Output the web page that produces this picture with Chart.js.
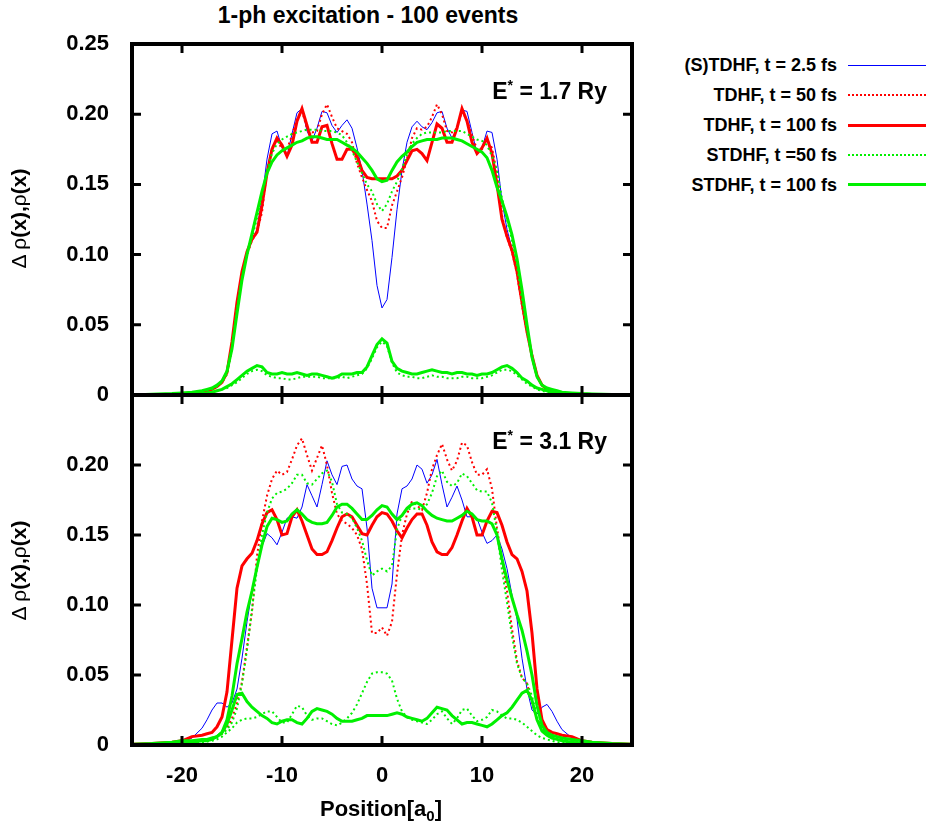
<!DOCTYPE html>
<html>
<head>
<meta charset="utf-8">
<script src="https://cdn.jsdelivr.net/npm/chart.js@4.4.0/dist/chart.umd.min.js"></script>
<style>
  body { margin: 0; background: #fff; }
  #page { position: relative; width: 926px; height: 830px; overflow: hidden; font-family: "Liberation Sans", Arial, sans-serif; font-weight: bold; color: #000; }
  canvas { position: absolute; left: 0; }
  .txt { position: absolute; white-space: nowrap; line-height: 1; }
  .leg { position: absolute; right: 89px; font-size: 18px; line-height: 1; white-space: nowrap; }
  .sample { position: absolute; left: 848px; width: 78px; height: 0; }
  .ytitle { position: absolute; width: 240px; text-align: center; font-size: 21px; line-height: 1; transform: rotate(-90deg); white-space: nowrap; }
  .ytitle .g { font-weight: normal; }
</style>
</head>
<body>
<div id="page">
  <div class="txt" style="left:168px; width:400px; text-align:center; top:4px; font-size:23px;">1-ph excitation - 100 events</div>

  <canvas id="topChart" width="640" height="425" style="top:0"></canvas>
  <canvas id="botChart" width="640" height="465" style="top:365px"></canvas>

  <div class="txt" style="right:319px; top:78px; font-size:23px;">E<sup style="font-size:14px; vertical-align:9px;">*</sup> = 1.7 Ry</div>
  <div class="txt" style="right:319px; top:428px; font-size:23px;">E<sup style="font-size:14px; vertical-align:9px;">*</sup> = 3.1 Ry</div>

  <div class="ytitle" style="left:-102px; top:208px;"><span class="g">Δ ρ</span>(x),<span class="g">ρ</span>(x)</div>
  <div class="ytitle" style="left:-102px; top:560px;"><span class="g">Δ ρ</span>(x),<span class="g">ρ</span>(x)</div>

  <div class="txt" style="left:231px; width:300px; text-align:center; top:798px; font-size:22px;">Position[a<sub style="font-size:15px; vertical-align:-5px;">0</sub>]</div>

  <div class="leg" style="top:56px;">(S)TDHF, t = 2.5 fs</div>
  <div class="sample" style="top:65px; border-top:1px solid #0000ff;"></div>
  <div class="leg" style="top:86px;">TDHF, t = 50 fs</div>
  <div class="sample" style="top:94px; border-top:2px dotted #ff0000;"></div>
  <div class="leg" style="top:116px;">TDHF, t = 100 fs</div>
  <div class="sample" style="top:124px; border-top:3px solid #ff0000;"></div>
  <div class="leg" style="top:146px;">STDHF, t =50 fs</div>
  <div class="sample" style="top:154px; border-top:2px dotted #00f000;"></div>
  <div class="leg" style="top:176px;">STDHF, t = 100 fs</div>
  <div class="sample" style="top:183px; border-top:3px solid #00f000;"></div>
</div>

<script>
// positions in a0
const positions = [-25, -23, -21, -20, -19,
    -18, -17.5, -17, -16.5, -16, -15.5, -15, -14.5, -14, -13.5, -13, -12.5,
    -12, -11.5, -11, -10.5, -10, -9.5, -9, -8.5, -8, -7.5, -7, -6.5,
    -6, -5.5, -5, -4.5, -4, -3.5, -3, -2.5, -2, -1.5, -1, -0.5,
    0, 0.5, 1, 1.5, 2, 2.5, 3, 3.5, 4, 4.5, 5, 5.5,
    6, 6.5, 7, 7.5, 8, 8.5, 9, 9.5, 10, 10.5, 11, 11.5,
    12, 12.5, 13, 13.5, 14, 14.5, 15, 15.5, 16, 16.5, 17, 17.5,
    18, 19, 20, 21, 23, 25];

const xTicks = [-20, -10, 0, 10, 20];
const yTicksTop = [0, 0.05, 0.10, 0.15, 0.20, 0.25];
const yTicksBot = [0, 0.05, 0.10, 0.15, 0.20];
const yMarks = [0, 0.05, 0.10, 0.15, 0.20, 0.25];

// upper panel, E* = 1.7 Ry
const topBlue = [0, 0, 0.0005, 0.001, 0.0015,
    0.002, 0.003, 0.004, 0.006, 0.009, 0.016, 0.037, 0.064, 0.086, 0.101, 0.110, 0.118,
    0.140, 0.168, 0.186, 0.188, 0.176, 0.170, 0.186, 0.201, 0.204, 0.188, 0.181, 0.190,
    0.202, 0.201, 0.192, 0.187, 0.192, 0.196, 0.190, 0.176, 0.160, 0.136, 0.110, 0.078,
    0.062, 0.068, 0.098, 0.132, 0.160, 0.180, 0.191, 0.195, 0.191, 0.189, 0.194, 0.201,
    0.202, 0.190, 0.183, 0.190, 0.203, 0.202, 0.187, 0.172, 0.176, 0.188, 0.187, 0.168,
    0.138, 0.118, 0.104, 0.088, 0.066, 0.045, 0.028, 0.014, 0.007, 0.004, 0.003, 0.002,
    0.001, 0.0008, 0.0005, 0.0003, 0, 0];
const topRedDot = [0, 0, 0.0005, 0.001, 0.0015,
    0.002, 0.003, 0.004, 0.006, 0.009, 0.015, 0.034, 0.062, 0.085, 0.100, 0.110, 0.116,
    0.130, 0.160, 0.176, 0.182, 0.175, 0.175, 0.185, 0.197, 0.202, 0.190, 0.187, 0.188,
    0.200, 0.207, 0.198, 0.190, 0.188, 0.186, 0.180, 0.165, 0.155, 0.146, 0.138, 0.124,
    0.119, 0.119, 0.135, 0.145, 0.155, 0.168, 0.183, 0.190, 0.189, 0.191, 0.198, 0.207,
    0.200, 0.188, 0.187, 0.190, 0.202, 0.196, 0.185, 0.175, 0.175, 0.182, 0.176, 0.158,
    0.128, 0.112, 0.102, 0.086, 0.064, 0.044, 0.027, 0.013, 0.007, 0.004, 0.003, 0.002,
    0.001, 0.0008, 0.0005, 0.0003, 0, 0];
const topRed = [0, 0, 0.0005, 0.001, 0.0015,
    0.002, 0.003, 0.004, 0.006, 0.009, 0.016, 0.038, 0.066, 0.088, 0.102, 0.111, 0.116,
    0.135, 0.158, 0.175, 0.183, 0.178, 0.170, 0.178, 0.195, 0.204, 0.192, 0.180, 0.180,
    0.191, 0.192, 0.179, 0.168, 0.168, 0.175, 0.175, 0.170, 0.160, 0.155, 0.154, 0.154,
    0.154, 0.154, 0.154, 0.156, 0.160, 0.167, 0.174, 0.175, 0.172, 0.167, 0.180, 0.193,
    0.190, 0.180, 0.180, 0.190, 0.204, 0.195, 0.180, 0.172, 0.176, 0.183, 0.172, 0.150,
    0.125, 0.113, 0.103, 0.088, 0.066, 0.045, 0.028, 0.014, 0.007, 0.004, 0.003, 0.002,
    0.001, 0.0008, 0.0005, 0.0003, 0, 0];
const topGreenDot = [0, 0, 0.0005, 0.001, 0.0015,
    0.002, 0.003, 0.004, 0.006, 0.009, 0.015, 0.034, 0.062, 0.085, 0.100, 0.112, 0.126,
    0.142, 0.160, 0.172, 0.179, 0.182, 0.184, 0.186, 0.187, 0.188, 0.189, 0.189, 0.189,
    0.188, 0.188, 0.188, 0.187, 0.185, 0.180, 0.174, 0.166, 0.158, 0.150, 0.145, 0.136,
    0.131, 0.136, 0.145, 0.152, 0.161, 0.171, 0.179, 0.183, 0.186, 0.187, 0.187, 0.187,
    0.187, 0.188, 0.188, 0.188, 0.188, 0.186, 0.184, 0.182, 0.181, 0.178, 0.170, 0.160,
    0.140, 0.125, 0.110, 0.092, 0.068, 0.045, 0.027, 0.013, 0.007, 0.004, 0.003, 0.002,
    0.001, 0.0008, 0.0005, 0.0003, 0, 0];
const topGreen = [0, 0.0005, 0.001, 0.0015, 0.002,
    0.003, 0.004, 0.005, 0.007, 0.010, 0.017, 0.033, 0.058, 0.082, 0.100, 0.115, 0.130,
    0.145, 0.158, 0.166, 0.171, 0.174, 0.176, 0.178, 0.180, 0.181, 0.183, 0.184, 0.184,
    0.183, 0.182, 0.182, 0.182, 0.180, 0.178, 0.176, 0.173, 0.169, 0.165, 0.160, 0.154,
    0.152, 0.153, 0.160, 0.166, 0.170, 0.173, 0.177, 0.180, 0.181, 0.182, 0.182, 0.182,
    0.183, 0.183, 0.183, 0.182, 0.181, 0.179, 0.177, 0.175, 0.173, 0.169, 0.160, 0.148,
    0.138, 0.127, 0.114, 0.097, 0.075, 0.050, 0.027, 0.013, 0.007, 0.005, 0.004, 0.003,
    0.002, 0.0015, 0.001, 0.0008, 0.0003, 0];
const topGreenLow = [0, 0, 0.0003, 0.0005, 0.0008,
    0.001, 0.0015, 0.002, 0.003, 0.004, 0.006, 0.008, 0.011, 0.014, 0.017, 0.019, 0.021,
    0.020, 0.016, 0.015, 0.015, 0.016, 0.015, 0.015, 0.016, 0.015, 0.014, 0.015, 0.015,
    0.014, 0.013, 0.012, 0.013, 0.015, 0.015, 0.015, 0.016, 0.016, 0.020, 0.028, 0.036,
    0.040, 0.037, 0.024, 0.019, 0.017, 0.016, 0.015, 0.015, 0.016, 0.017, 0.018, 0.017,
    0.016, 0.016, 0.015, 0.016, 0.016, 0.015, 0.015, 0.014, 0.015, 0.015, 0.016, 0.018,
    0.020, 0.021, 0.019, 0.016, 0.012, 0.010, 0.007, 0.005, 0.004, 0.003, 0.002, 0.0015,
    0.001, 0.0008, 0.0005, 0.0003, 0, 0];
const topGreenDotLow = [0, 0, 0.0003, 0.0005, 0.0008,
    0.001, 0.0015, 0.002, 0.003, 0.004, 0.005, 0.007, 0.009, 0.012, 0.015, 0.017, 0.018,
    0.017, 0.014, 0.013, 0.012, 0.012, 0.011, 0.011, 0.012, 0.013, 0.013, 0.013, 0.013,
    0.012, 0.012, 0.012, 0.012, 0.013, 0.012, 0.013, 0.014, 0.015, 0.019, 0.026, 0.034,
    0.038, 0.035, 0.023, 0.016, 0.014, 0.013, 0.013, 0.012, 0.012, 0.013, 0.014, 0.013,
    0.013, 0.012, 0.012, 0.012, 0.013, 0.013, 0.012, 0.012, 0.012, 0.013, 0.014, 0.016,
    0.018, 0.018, 0.017, 0.014, 0.011, 0.008, 0.006, 0.004, 0.003, 0.002, 0.0015, 0.001,
    0.001, 0.0008, 0.0005, 0.0003, 0, 0];

// lower panel, E* = 3.1 Ry
const botBlue = [0, 0.0005, 0.001, 0.002, 0.005,
    0.012, 0.018, 0.025, 0.030, 0.030, 0.027, 0.030, 0.040, 0.062, 0.088, 0.110, 0.127,
    0.142, 0.151, 0.148, 0.143, 0.152, 0.162, 0.163, 0.162, 0.170, 0.186, 0.178, 0.170,
    0.186, 0.203, 0.193, 0.186, 0.199, 0.200, 0.190, 0.185, 0.183, 0.155, 0.112, 0.098,
    0.098, 0.098, 0.115, 0.165, 0.183, 0.185, 0.190, 0.200, 0.197, 0.187, 0.193, 0.204,
    0.186, 0.170, 0.177, 0.185, 0.175, 0.163, 0.163, 0.162, 0.152, 0.144, 0.146, 0.150,
    0.140, 0.126, 0.107, 0.090, 0.062, 0.040, 0.025, 0.022, 0.027, 0.029, 0.024, 0.017,
    0.011, 0.005, 0.002, 0.001, 0.0005, 0];
const botRedDot = [0, 0.0005, 0.001, 0.0015, 0.002,
    0.003, 0.004, 0.005, 0.006, 0.008, 0.012, 0.019, 0.030, 0.045, 0.070, 0.095, 0.135,
    0.160, 0.178, 0.190, 0.196, 0.193, 0.195, 0.204, 0.214, 0.219, 0.207, 0.196, 0.205,
    0.214, 0.200, 0.180, 0.165, 0.160, 0.158, 0.155, 0.150, 0.140, 0.115, 0.080, 0.080,
    0.084, 0.078, 0.088, 0.122, 0.150, 0.165, 0.174, 0.171, 0.168, 0.180, 0.197, 0.207,
    0.215, 0.204, 0.196, 0.203, 0.216, 0.214, 0.202, 0.193, 0.193, 0.197, 0.183, 0.155,
    0.132, 0.110, 0.083, 0.060, 0.048, 0.044, 0.030, 0.018, 0.012, 0.009, 0.007, 0.006,
    0.005, 0.003, 0.002, 0.001, 0.0005, 0];
const botRed = [0.0005, 0.001, 0.002, 0.003, 0.006,
    0.007, 0.008, 0.009, 0.013, 0.020, 0.038, 0.075, 0.112, 0.128, 0.133, 0.137, 0.146,
    0.158, 0.166, 0.168, 0.161, 0.150, 0.151, 0.163, 0.168, 0.160, 0.150, 0.140, 0.136,
    0.136, 0.138, 0.146, 0.155, 0.163, 0.165, 0.163, 0.157, 0.151, 0.150, 0.157, 0.163,
    0.166, 0.165, 0.160, 0.153, 0.148, 0.155, 0.161, 0.165, 0.165, 0.157, 0.145, 0.138,
    0.136, 0.136, 0.141, 0.150, 0.160, 0.169, 0.163, 0.150, 0.150, 0.160, 0.167, 0.166,
    0.157, 0.145, 0.136, 0.133, 0.124, 0.110, 0.080, 0.040, 0.018, 0.011, 0.009, 0.008,
    0.007, 0.006, 0.003, 0.002, 0.001, 0.0005];
const botGreenDot = [0, 0.0005, 0.001, 0.0015, 0.002,
    0.003, 0.004, 0.005, 0.006, 0.008, 0.011, 0.016, 0.026, 0.044, 0.068, 0.097, 0.126,
    0.150, 0.166, 0.176, 0.180, 0.181, 0.183, 0.187, 0.193, 0.193, 0.187, 0.186, 0.190,
    0.194, 0.196, 0.188, 0.172, 0.166, 0.165, 0.162, 0.155, 0.146, 0.132, 0.121, 0.124,
    0.126, 0.124, 0.128, 0.154, 0.164, 0.168, 0.169, 0.169, 0.168, 0.172, 0.180, 0.192,
    0.196, 0.188, 0.185, 0.187, 0.194, 0.192, 0.187, 0.182, 0.181, 0.181, 0.173, 0.152,
    0.125, 0.102, 0.078, 0.058, 0.048, 0.044, 0.035, 0.020, 0.012, 0.008, 0.006, 0.005,
    0.004, 0.003, 0.002, 0.001, 0.0005, 0];
const botGreen = [0.0005, 0.001, 0.002, 0.003, 0.003,
    0.004, 0.004, 0.005, 0.006, 0.009, 0.018, 0.035, 0.058, 0.076, 0.095, 0.110, 0.127,
    0.143, 0.156, 0.162, 0.161, 0.159, 0.160, 0.165, 0.168, 0.165, 0.161, 0.159, 0.158,
    0.158, 0.159, 0.164, 0.170, 0.172, 0.172, 0.169, 0.165, 0.161, 0.161, 0.164, 0.168,
    0.171, 0.170, 0.165, 0.161, 0.164, 0.169, 0.172, 0.173, 0.171, 0.167, 0.164, 0.162,
    0.161, 0.160, 0.160, 0.162, 0.164, 0.167, 0.165, 0.161, 0.160, 0.160, 0.158, 0.150,
    0.133, 0.118, 0.105, 0.093, 0.082, 0.067, 0.050, 0.028, 0.014, 0.009, 0.007, 0.006,
    0.005, 0.004, 0.003, 0.002, 0.001, 0.0005];
const botGreenLow = [0, 0.0005, 0.001, 0.0015, 0.002,
    0.003, 0.003, 0.004, 0.006, 0.009, 0.015, 0.025, 0.036, 0.037, 0.031, 0.027, 0.024,
    0.021, 0.019, 0.016, 0.015, 0.017, 0.018, 0.018, 0.016, 0.015, 0.019, 0.024, 0.026,
    0.025, 0.024, 0.022, 0.019, 0.017, 0.017, 0.017, 0.018, 0.019, 0.021, 0.021, 0.021,
    0.021, 0.021, 0.022, 0.023, 0.022, 0.020, 0.019, 0.018, 0.017, 0.019, 0.023, 0.027,
    0.026, 0.025, 0.021, 0.018, 0.015, 0.016, 0.016, 0.015, 0.014, 0.013, 0.015, 0.018,
    0.021, 0.023, 0.027, 0.032, 0.037, 0.039, 0.032, 0.018, 0.010, 0.007, 0.005, 0.004,
    0.003, 0.002, 0.001, 0.0005, 0, 0];
const botGreenDotLow = [0, 0.0003, 0.0005, 0.001, 0.0015,
    0.002, 0.0025, 0.003, 0.004, 0.006, 0.009, 0.012, 0.016, 0.018, 0.019, 0.019, 0.020,
    0.022, 0.024, 0.024, 0.020, 0.016, 0.016, 0.022, 0.028, 0.027, 0.021, 0.018, 0.019,
    0.019, 0.017, 0.015, 0.014, 0.016, 0.019, 0.023, 0.029, 0.037, 0.045, 0.051, 0.052,
    0.052, 0.051, 0.046, 0.033, 0.024, 0.020, 0.018, 0.017, 0.016, 0.015, 0.018, 0.022,
    0.024, 0.019, 0.015, 0.019, 0.025, 0.026, 0.021, 0.017, 0.018, 0.020, 0.025, 0.024,
    0.021, 0.019, 0.019, 0.018, 0.016, 0.013, 0.010, 0.007, 0.005, 0.004, 0.003, 0.002,
    0.002, 0.001, 0.0005, 0.0003, 0, 0];

const BLUE = '#0000ff';
const RED = '#ff0000';
const GREEN = '#00f000';
const FONT = '"Liberation Sans", Arial, sans-serif';

Chart.defaults.color = '#000';
Chart.defaults.font.family = FONT;

function points(values) {
    return positions.map((x, i) => ({ x: x, y: values[i] }));
}

function line(values, color, width, dotted) {
    return {
        data: points(values),
        borderColor: color,
        borderWidth: width,
        borderDash: dotted ? [2, 3] : [],
        pointRadius: 0,
        tension: 0,
        fill: false
    };
}

// inward ticks on all four sides and the thick frame
const framePlugin = {
    id: 'frame',
    afterDraw(chart) {
        const { ctx, chartArea: a } = chart;
        const x = chart.scales.x;
        const y = chart.scales.y;
        ctx.save();
        ctx.strokeStyle = '#000';
        ctx.lineWidth = 3;
        ctx.beginPath();
        xTicks.forEach(v => {
            const px = x.getPixelForValue(v);
            ctx.moveTo(px, a.top);
            ctx.lineTo(px, a.top + 9);
            ctx.moveTo(px, a.bottom);
            ctx.lineTo(px, a.bottom - 9);
        });
        yMarks.forEach(v => {
            const py = y.getPixelForValue(v);
            ctx.moveTo(a.left, py);
            ctx.lineTo(a.left + 9, py);
            ctx.moveTo(a.right, py);
            ctx.lineTo(a.right - 9, py);
        });
        ctx.stroke();
        ctx.lineWidth = 4;
        ctx.strokeRect(a.left, a.top, a.right - a.left, a.bottom - a.top);
        ctx.restore();
    }
};

function makeChart(id, sets, yTicks, showX, padding) {
    // drawn last = on top, so reverse the gnuplot plotting order
    const datasets = sets.slice().reverse();
    return new Chart(document.getElementById(id), {
        type: 'line',
        data: { datasets: datasets },
        options: {
            responsive: false,
            animation: false,
            devicePixelRatio: 1,
            layout: { padding: padding },
            plugins: { legend: { display: false }, tooltip: { enabled: false } },
            scales: {
                x: {
                    type: 'linear',
                    min: -25,
                    max: 25,
                    afterBuildTicks: axis => { axis.ticks = xTicks.map(v => ({ value: v })); },
                    afterFit: axis => { axis.height = showX ? 85 : 0; },
                    grid: { display: false },
                    border: { display: false },
                    ticks: {
                        display: showX,
                        padding: 10,
                        maxRotation: 0,
                        font: { size: 22, weight: 'bold' }
                    }
                },
                y: {
                    min: 0,
                    max: 0.25,
                    afterBuildTicks: axis => { axis.ticks = yTicks.map(v => ({ value: v })); },
                    afterFit: axis => { axis.width = 132; },
                    grid: { display: false },
                    border: { display: false },
                    ticks: {
                        padding: 15,
                        font: { size: 22, weight: 'bold' },
                        callback: v => (v === 0 ? '0' : v.toFixed(2))
                    }
                }
            }
        },
        plugins: [framePlugin]
    });
}

makeChart('topChart', [
    line(topBlue, BLUE, 1, false),
    line(topRedDot, RED, 2, true),
    line(topRed, RED, 3, false),
    line(topGreenDot, GREEN, 2, true),
    line(topGreenDotLow, GREEN, 2, true),
    line(topGreen, GREEN, 3, false),
    line(topGreenLow, GREEN, 3, false)
], yTicksTop, false, { top: 44, left: 0, right: 8, bottom: 30 });

makeChart('botChart', [
    line(botBlue, BLUE, 1, false),
    line(botRedDot, RED, 2, true),
    line(botRed, RED, 3, false),
    line(botGreenDot, GREEN, 2, true),
    line(botGreenDotLow, GREEN, 2, true),
    line(botGreen, GREEN, 3, false),
    line(botGreenLow, GREEN, 3, false)
], yTicksBot, true, { top: 30, left: 0, right: 8, bottom: 0 });
</script>
</body>
</html>
